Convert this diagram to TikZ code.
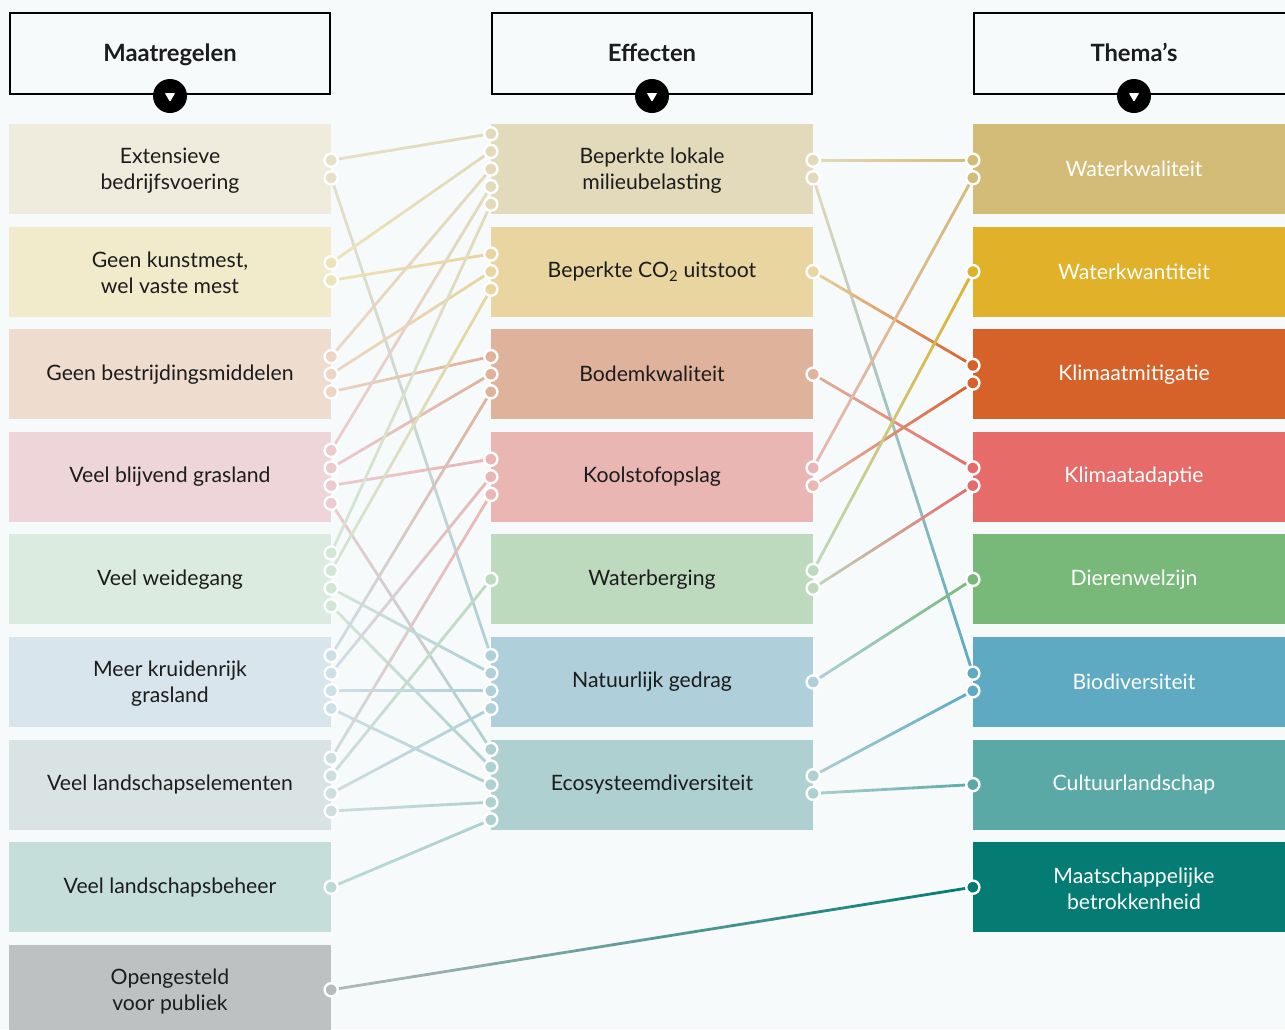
\documentclass[tikz,border=0pt]{standalone}
\usepackage{fontspec}
\setmainfont{Lato}
\usetikzlibrary{calc}
\definecolor{bg}{HTML}{F6FAFB}
\definecolor{txt}{HTML}{1C1C1C}
% left boxes
\definecolor{cL1}{HTML}{F0ECDD}\definecolor{dL1}{HTML}{E6E0C8}
\definecolor{cL2}{HTML}{F2EBCB}\definecolor{dL2}{HTML}{EDE3B8}
\definecolor{cL3}{HTML}{EEDCCF}\definecolor{dL3}{HTML}{ECD5C4}
\definecolor{cL4}{HTML}{EDD5D9}\definecolor{dL4}{HTML}{EBCBCF}
\definecolor{cL5}{HTML}{DCEBDF}\definecolor{dL5}{HTML}{D3E6D6}
\definecolor{cL6}{HTML}{D9E5EC}\definecolor{dL6}{HTML}{CFDFE8}
\definecolor{cL7}{HTML}{D9E3E3}\definecolor{dL7}{HTML}{CFDDDD}
\definecolor{cL8}{HTML}{C5DEDA}\definecolor{dL8}{HTML}{BCD9D5}
\definecolor{cL9}{HTML}{BEC1C1}\definecolor{dL9}{HTML}{B6BABA}
% middle boxes
\definecolor{cM1}{HTML}{E2DABA}
\definecolor{cM2}{HTML}{E8D5A0}
\definecolor{cM3}{HTML}{DFB29B}
\definecolor{cM4}{HTML}{E9B6B4}
\definecolor{cM5}{HTML}{BDDABF}
\definecolor{cM6}{HTML}{AFCFDA}
\definecolor{cM7}{HTML}{AFD0D0}
% right boxes
\definecolor{cR1}{HTML}{D3BC78}
\definecolor{cR2}{HTML}{E1B12A}
\definecolor{cR3}{HTML}{D6622A}
\definecolor{cR4}{HTML}{E66B69}
\definecolor{cR5}{HTML}{78B97A}
\definecolor{cR6}{HTML}{5EAAC2}
\definecolor{cR7}{HTML}{5BA9A7}
\definecolor{cR8}{HTML}{047C74}
\newcommand\myboxfont{\fontsize{21.2}{26}\selectfont}
\newcommand\myhdrfont{\fontsize{23.8}{28}\selectfont\bfseries}
\newcommand\mkdots[4]{\foreach \k in {1,...,#3}{\coordinate (#4-\k) at ($(#1.#2)+(0,{(\k-(#3+1)/2)*17.6})$);}}
\newcommand\gline[4]{\foreach \k in {1,...,16}{\pgfmathsetmacro\ta{(\k-1)/16}\pgfmathsetmacro\tb{\k/16}\pgfmathtruncatemacro\pc{100-(\k-0.5)*6.25}\draw[conn,draw=#3!\pc!#4] ($(#1)!\ta!(#2)$) -- ($(#1)!\tb!(#2)$);}}
\newcommand\dotset[3]{\foreach \k in {1,...,#2}{\draw[white, line width=2.4pt, fill=#3] (#1-\k) circle[radius=6.6pt];}}
\newcommand\hdrmark[2]{\node[hcirc] (#1) at (#2) {};
  \fill[white, rounded corners=0.8pt] ($(#1)+(-5.2,-3)$) -- ($(#1)+(5.2,-3)$) -- ($(#1)+(0,5.8)$) -- cycle;}
\tikzset{
  hdr/.style={draw=black, line width=2.6pt, minimum width=320pt, minimum height=81pt, inner sep=0pt, font=\myhdrfont, text=txt, text height=20pt, text depth=5pt},
  cbox/.style={minimum width=322pt, minimum height=90pt, inner sep=0pt, align=center, font=\myboxfont, text=txt},
  wbox/.style={cbox, text=white},
  lbl/.style={align=center, font=\myboxfont, text=txt, inner sep=0pt, yshift=-1.5pt},
  wlbl/.style={lbl, text=white},
  conn/.style={line width=2.8pt, line cap=round},
  hcirc/.style={circle, fill=black, minimum size=34pt, inner sep=0pt},
}
\begin{document}
\begin{tikzpicture}[x=1pt,y=-1pt]
\useasboundingbox (0,0) rectangle (1285,1029);
\fill[bg] (0,0) rectangle (1285,1029);
% headers
\node[hdr] (h1) at (170,53.5) {Maatregelen};
\node[hdr] (h2) at (652,53.5) {Effecten};
\node[hdr] (h3) at (1134,53.5) {Thema’s};
\hdrmark{hc1}{170,96}
\hdrmark{hc2}{652,96}
\hdrmark{hc3}{1134,96}
% left column
\node[cbox, fill=cL1, label={[lbl]center:Extensieve\\bedrijfsvoering}] (L1) at (170,169) {};
\node[cbox, fill=cL2, label={[lbl]center:Geen kunstmest,\\wel vaste mest}] (L2) at (170,271.6) {};
\node[cbox, fill=cL3] (L3) at (170,374.2) {Geen bestrijdingsmiddelen};
\node[cbox, fill=cL4] (L4) at (170,476.8) {Veel blijvend grasland};
\node[cbox, fill=cL5] (L5) at (170,579.4) {Veel weidegang};
\node[cbox, fill=cL6, label={[lbl]center:Meer kruidenrijk\\grasland}] (L6) at (170,682) {};
\node[cbox, fill=cL7] (L7) at (170,784.6) {Veel landschapselementen};
\node[cbox, fill=cL8] (L8) at (170,887.2) {Veel landschapsbeheer};
\node[cbox, fill=cL9, label={[lbl]center:Opengesteld\\voor publiek}] (L9) at (170,989.8) {};
% middle column
\node[cbox, fill=cM1, label={[lbl]center:Beperkte lokale\\milieubelasting}] (M1) at (652,169) {};
\node[cbox, fill=cM2] (M2) at (652,271.6) {Beperkte CO\textsubscript{2} uitstoot};
\node[cbox, fill=cM3] (M3) at (652,374.2) {Bodemkwaliteit};
\node[cbox, fill=cM4] (M4) at (652,476.8) {Koolstofopslag};
\node[cbox, fill=cM5] (M5) at (652,579.4) {Waterberging};
\node[cbox, fill=cM6] (M6) at (652,682) {Natuurlijk gedrag};
\node[cbox, fill=cM7] (M7) at (652,784.6) {Ecosysteemdiversiteit};
% right column
\node[wbox, fill=cR1] (R1) at (1134,169) {Waterkwaliteit};
\node[wbox, fill=cR2] (R2) at (1134,271.6) {Waterkwantiteit};
\node[wbox, fill=cR3] (R3) at (1134,374.2) {Klimaatmitigatie};
\node[wbox, fill=cR4] (R4) at (1134,476.8) {Klimaatadaptie};
\node[wbox, fill=cR5] (R5) at (1134,579.4) {Dierenwelzijn};
\node[wbox, fill=cR6] (R6) at (1134,682) {Biodiversiteit};
\node[wbox, fill=cR7] (R7) at (1134,784.6) {Cultuurlandschap};
\node[wbox, fill=cR8, label={[wlbl]center:Maatschappelijke\\betrokkenheid}] (R8) at (1134,887.2) {};
% connection points
\mkdots{L1}{east}{2}{l1}\mkdots{L2}{east}{2}{l2}\mkdots{L3}{east}{3}{l3}
\mkdots{L4}{east}{4}{l4}\mkdots{L5}{east}{4}{l5}\mkdots{L6}{east}{4}{l6}
\mkdots{L7}{east}{4}{l7}\mkdots{L8}{east}{1}{l8}\mkdots{L9}{east}{1}{l9}
\mkdots{M1}{west}{5}{mw1}\mkdots{M2}{west}{3}{mw2}\mkdots{M3}{west}{3}{mw3}
\mkdots{M4}{west}{3}{mw4}\mkdots{M5}{west}{1}{mw5}\mkdots{M6}{west}{4}{mw6}
\mkdots{M7}{west}{5}{mw7}
\mkdots{M1}{east}{2}{me1}\mkdots{M2}{east}{1}{me2}\mkdots{M3}{east}{1}{me3}
\mkdots{M4}{east}{2}{me4}\mkdots{M5}{east}{2}{me5}\mkdots{M6}{east}{1}{me6}
\mkdots{M7}{east}{2}{me7}
\mkdots{R1}{west}{2}{r1}\mkdots{R2}{west}{1}{r2}\mkdots{R3}{west}{2}{r3}
\mkdots{R4}{west}{2}{r4}\mkdots{R5}{west}{1}{r5}\mkdots{R6}{west}{2}{r6}
\mkdots{R7}{west}{1}{r7}\mkdots{R8}{west}{1}{r8}
% connectors left -> middle
\gline{l1-1}{mw1-1}{dL1}{cM1}
\gline{l1-2}{mw6-1}{dL1}{cM6}
\gline{l2-1}{mw1-2}{dL2}{cM1}
\gline{l2-2}{mw2-1}{dL2}{cM2}
\gline{l3-1}{mw1-3}{dL3}{cM1}
\gline{l3-2}{mw2-2}{dL3}{cM2}
\gline{l3-3}{mw3-1}{dL3}{cM3}
\gline{l4-1}{mw1-4}{dL4}{cM1}
\gline{l4-2}{mw3-2}{dL4}{cM3}
\gline{l4-3}{mw4-1}{dL4}{cM4}
\gline{l4-4}{mw7-1}{dL4}{cM7}
\gline{l5-1}{mw1-5}{dL5}{cM1}
\gline{l5-2}{mw2-3}{dL5}{cM2}
\gline{l5-3}{mw6-2}{dL5}{cM6}
\gline{l5-4}{mw7-2}{dL5}{cM7}
\gline{l6-1}{mw3-3}{dL6}{cM3}
\gline{l6-2}{mw4-2}{dL6}{cM4}
\gline{l6-3}{mw6-3}{dL6}{cM6}
\gline{l6-4}{mw7-3}{dL6}{cM7}
\gline{l7-1}{mw4-3}{dL7}{cM4}
\gline{l7-2}{mw5-1}{dL7}{cM5}
\gline{l7-3}{mw6-4}{dL7}{cM6}
\gline{l7-4}{mw7-4}{dL7}{cM7}
\gline{l8-1}{mw7-5}{dL8}{cM7}
% connectors middle -> right
\gline{me1-1}{r1-1}{cM1}{cR1}
\gline{me1-2}{r6-1}{cM1}{cR6}
\gline{me2-1}{r3-1}{cM2}{cR3}
\gline{me3-1}{r4-1}{cM3}{cR4}
\gline{me4-1}{r1-2}{cM4}{cR1}
\gline{me4-2}{r3-2}{cM4}{cR3}
\gline{me5-1}{r2-1}{cM5}{cR2}
\gline{me5-2}{r4-2}{cM5}{cR4}
\gline{me6-1}{r5-1}{cM6}{cR5}
\gline{me7-1}{r6-2}{cM7}{cR6}
\gline{me7-2}{r7-1}{cM7}{cR7}
\gline{l9-1}{r8-1}{dL9}{cR8}
% dots
\dotset{l1}{2}{dL1}\dotset{l2}{2}{dL2}\dotset{l3}{3}{dL3}\dotset{l4}{4}{dL4}
\dotset{l5}{4}{dL5}\dotset{l6}{4}{dL6}\dotset{l7}{4}{dL7}\dotset{l8}{1}{dL8}
\dotset{l9}{1}{dL9}
\dotset{mw1}{5}{cM1}\dotset{mw2}{3}{cM2}\dotset{mw3}{3}{cM3}\dotset{mw4}{3}{cM4}
\dotset{mw5}{1}{cM5}\dotset{mw6}{4}{cM6}\dotset{mw7}{5}{cM7}
\dotset{me1}{2}{cM1}\dotset{me2}{1}{cM2}\dotset{me3}{1}{cM3}\dotset{me4}{2}{cM4}
\dotset{me5}{2}{cM5}\dotset{me6}{1}{cM6}\dotset{me7}{2}{cM7}
\dotset{r1}{2}{cR1}\dotset{r2}{1}{cR2}\dotset{r3}{2}{cR3}\dotset{r4}{2}{cR4}
\dotset{r5}{1}{cR5}\dotset{r6}{2}{cR6}\dotset{r7}{1}{cR7}\dotset{r8}{1}{cR8}
\end{tikzpicture}
\end{document}
